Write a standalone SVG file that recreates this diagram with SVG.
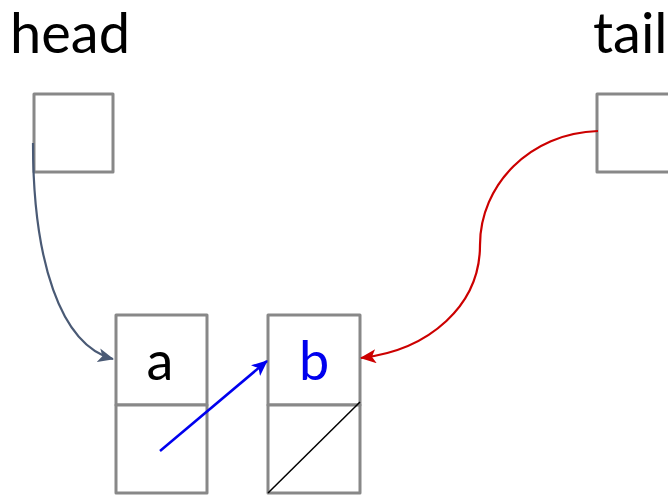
<svg xmlns="http://www.w3.org/2000/svg" width="668" height="495" viewBox="0 0 668 495">
<style>
.box{fill:#fff;stroke:#888;stroke-width:3;stroke-linejoin:round}
.lbl{font-family:Lato,"Open Sans",sans-serif;font-size:56px;fill:#000}
.val{font-family:Lato,"Open Sans",sans-serif;font-size:54px;text-anchor:middle}
</style>
<defs>
<marker id="ah-slate" markerWidth="16" markerHeight="14" refX="15" refY="7" orient="auto" markerUnits="userSpaceOnUse"><path d="M0,0 L16,7 L0,14 L4,7 z" fill="#4a5a75"/></marker>
<marker id="ah-red" markerWidth="16" markerHeight="14" refX="15" refY="7" orient="auto" markerUnits="userSpaceOnUse"><path d="M0,0 L16,7 L0,14 L4,7 z" fill="#cc0000"/></marker>
<marker id="ah-blue" markerWidth="16" markerHeight="14" refX="15" refY="7" orient="auto" markerUnits="userSpaceOnUse"><path d="M0,0 L16,7 L0,14 L4,7 z" fill="#0000ee"/></marker>
</defs>
<g id="head">
<text class="lbl" x="10" y="53">head</text>
<rect class="box" x="34" y="94" width="79" height="78"/>
</g>
<g id="tail">
<text class="lbl" x="593" y="53">tail</text>
<rect class="box" x="597" y="94" width="90" height="78"/>
</g>
<g id="node-a">
<rect class="box" x="116" y="315" width="91" height="90"/>
<rect class="box" x="116" y="405" width="91" height="88"/>
<text class="val" x="160" y="380" fill="#000">a</text>
</g>
<g id="node-b">
<rect class="box" x="268" y="315" width="92" height="90"/>
<rect class="box" x="268" y="405" width="92" height="88"/>
<text class="val" x="314" y="380" fill="#0000ee">b</text>
<line x1="268" y1="493" x2="360" y2="402" stroke="#000" stroke-width="1.5"/>
</g>
<g id="connectors" fill="none">
<path d="M33,143 C33,260 60,345 113,359" stroke="#4a5a75" stroke-width="2.2" marker-end="url(#ah-slate)"/>
<path d="M598,131 C530,133 480,185 480,245 C480,305 430,350 361,358" stroke="#cc0000" stroke-width="2.2" marker-end="url(#ah-red)"/>
<path d="M160,451 L267,361" stroke="#0000ee" stroke-width="2.5" marker-end="url(#ah-blue)"/>
</g>
</svg>
